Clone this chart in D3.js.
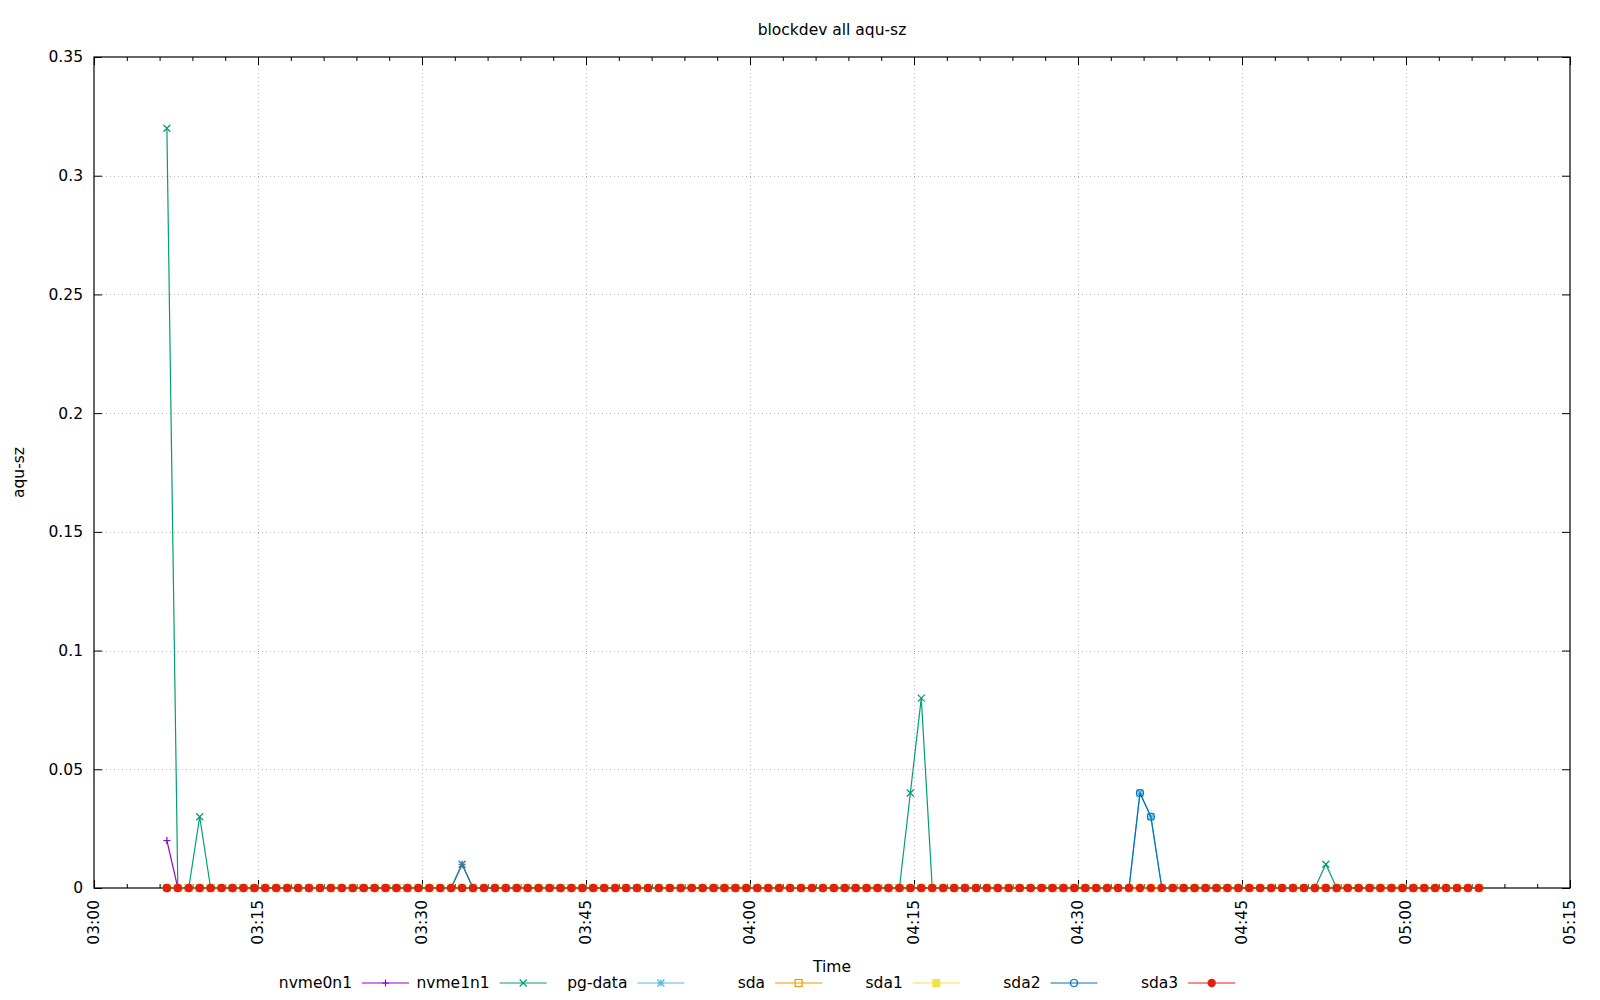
<!DOCTYPE html>
<html>
<head>
<meta charset="utf-8">
<title>blockdev all aqu-sz</title>
<script src="https://cdn.jsdelivr.net/npm/d3@7"></script>
<style>
  body { margin: 0; background: #fff; overflow: hidden; }
  svg { display: block; font-family: "DejaVu Sans", sans-serif; font-size: 15.5px; }
  .label { fill: #000; }
  .grid line { stroke: #b8b8b8; stroke-width: 1; stroke-dasharray: 1,3; }
</style>
</head>
<body>
<svg id="chart"></svg>
<script>
// Sampling grid: one sample per minute
const sampleStart = '03:06:40';
const sampleStepSec = 60;
const sampleCount = 121;

// Series names, in plot order
const seriesNames = ['nvme0n1', 'nvme1n1', 'pg-data', 'sda', 'sda1', 'sda2', 'sda3'];

// Non-zero readings for each series as [sample index, aqu-sz]; every other sample is 0
const nvme0n1Values = [[0, 0.02], [27, 0.01]];
const nvme1n1Values = [[0, 0.32], [3, 0.03], [27, 0.01], [68, 0.04], [69, 0.08], [106, 0.01]];
const pgDataValues = [[89, 0.04], [90, 0.03]];
const sdaValues = [];
const sda1Values = [];
const sda2Values = [[89, 0.04], [90, 0.03]];
const sda3Values = [];

// Axis ticks
const xTickLabels = ['03:00', '03:15', '03:30', '03:45', '04:00', '04:15', '04:30', '04:45', '05:00', '05:15'];
const yTickValues = [0, 0.05, 0.1, 0.15, 0.2, 0.25, 0.3, 0.35];

const colors = ['#9400d3', '#009e73', '#56b4e9', '#e69f00', '#f0e442', '#0072b2', '#e51e10'];
const markers = ['plus', 'cross', 'star', 'openSquare', 'fillSquare', 'openCircle', 'fillCircle'];

const config = {
  width: 1600,
  height: 1000,
  margin: {top: 57, right: 30, bottom: 112, left: 94}
};

const parseClock = d3.timeParse('%H:%M:%S');
const startTime = parseClock(sampleStart);
const times = d3.range(sampleCount).map(i => new Date(startTime.getTime() + i * sampleStepSec * 1000));

const rawValues = [nvme0n1Values, nvme1n1Values, pgDataValues, sdaValues, sda1Values, sda2Values, sda3Values];
const series = seriesNames.map((name, k) => {
  const lookup = new Map(rawValues[k]);
  return {
    name: name,
    color: colors[k],
    marker: markers[k],
    values: times.map((t, i) => ({time: t, value: lookup.has(i) ? lookup.get(i) : 0}))
  };
});

const innerWidth = config.width - config.margin.left - config.margin.right;
const innerHeight = config.height - config.margin.top - config.margin.bottom;

const svg = d3.select('#chart')
    .attr('width', config.width)
    .attr('height', config.height)
    .attr('viewBox', `0 0 ${config.width} ${config.height}`);

svg.append('rect')
    .attr('width', config.width)
    .attr('height', config.height)
    .attr('fill', '#fff');

const chart = svg.append('g')
    .attr('transform', `translate(${config.margin.left},${config.margin.top})`);

const parseTick = d3.timeParse('%H:%M');
const xTicks = xTickLabels.map(parseTick);

const xScale = d3.scaleTime()
    .domain([xTicks[0], xTicks[xTicks.length - 1]])
    .range([0, innerWidth]);

const yScale = d3.scaleLinear()
    .domain([0, 0.35])
    .range([innerHeight, 0]);

// Grid lines (dotted), inner ticks only
chart.append('g')
    .attr('class', 'grid')
  .selectAll('line')
    .data(xTicks.slice(1, -1))
  .join('line')
    .attr('x1', d => Math.round(xScale(d)) + 0.5)
    .attr('x2', d => Math.round(xScale(d)) + 0.5)
    .attr('y1', 0)
    .attr('y2', innerHeight);

chart.append('g')
    .attr('class', 'grid')
  .selectAll('line')
    .data(yTickValues.slice(1, -1))
  .join('line')
    .attr('x1', 0)
    .attr('x2', innerWidth)
    .attr('y1', d => Math.round(yScale(d)) + 0.5)
    .attr('y2', d => Math.round(yScale(d)) + 0.5);

// Tick marks come from d3 axes; domain paths and tick texts are dropped
function tickMarksOnly(g) {
  g.select('.domain').remove();
  g.selectAll('.tick text').remove();
  g.selectAll('.tick line').attr('stroke', '#000');
}

// Minor x ticks every 3 minutes, major every 15 (gnuplot style, pointing inward)
const minorTicks = d3.timeMinute.every(3).range(xTicks[0], xTicks[xTicks.length - 1])
    .filter(d => d.getMinutes() % 15 !== 0);

chart.append('g')
    .attr('transform', `translate(0,${innerHeight})`)
    .call(d3.axisBottom(xScale).tickValues(xTicks).tickSizeInner(-8).tickSizeOuter(0))
    .call(tickMarksOnly);

chart.append('g')
    .call(d3.axisTop(xScale).tickValues(xTicks).tickSizeInner(-8).tickSizeOuter(0))
    .call(tickMarksOnly);

chart.append('g')
    .attr('transform', `translate(0,${innerHeight})`)
    .call(d3.axisBottom(xScale).tickValues(minorTicks).tickSizeInner(-4).tickSizeOuter(0))
    .call(tickMarksOnly);

chart.append('g')
    .call(d3.axisTop(xScale).tickValues(minorTicks).tickSizeInner(-4).tickSizeOuter(0))
    .call(tickMarksOnly);

chart.append('g')
    .call(d3.axisLeft(yScale).tickValues(yTickValues).tickSizeInner(-8).tickSizeOuter(0))
    .call(tickMarksOnly);

chart.append('g')
    .attr('transform', `translate(${innerWidth},0)`)
    .call(d3.axisRight(yScale).tickValues(yTickValues).tickSizeInner(-8).tickSizeOuter(0))
    .call(tickMarksOnly);

// Tick labels
const timeFmt = d3.timeFormat('%H:%M');
chart.append('g')
  .selectAll('text')
    .data(xTicks)
  .join('text')
    .attr('class', 'label')
    .attr('transform', d => `translate(${xScale(d)},${innerHeight + 12}) rotate(-90)`)
    .attr('dy', '0.35em')
    .style('text-anchor', 'end')
    .text(d => timeFmt(d));

chart.append('g')
  .selectAll('text')
    .data(yTickValues)
  .join('text')
    .attr('class', 'label')
    .attr('x', -11)
    .attr('y', d => yScale(d))
    .attr('dy', '0.35em')
    .style('text-anchor', 'end')
    .text(d => d3.format('')(d));

// Plot border
chart.append('rect')
    .attr('x', 0)
    .attr('y', 0)
    .attr('width', innerWidth)
    .attr('height', innerHeight)
    .attr('fill', 'none')
    .attr('stroke', '#000')
    .attr('stroke-width', 1.2);

// Point marker drawing
function drawMarker(g, type, color) {
  const s = 3.5;
  if (type === 'plus' || type === 'star') {
    g.append('path').attr('d', `M${-s},0H${s}M0,${-s}V${s}`)
        .attr('stroke', color).attr('stroke-width', 1.2).attr('fill', 'none');
  }
  if (type === 'cross' || type === 'star') {
    g.append('path').attr('d', `M${-s},${-s}L${s},${s}M${-s},${s}L${s},${-s}`)
        .attr('stroke', color).attr('stroke-width', 1.2).attr('fill', 'none');
  }
  if (type === 'openSquare') {
    g.append('rect').attr('x', -s).attr('y', -s).attr('width', 2 * s).attr('height', 2 * s)
        .attr('stroke', color).attr('stroke-width', 1.2).attr('fill', 'none');
  }
  if (type === 'fillSquare') {
    g.append('rect').attr('x', -s - 0.5).attr('y', -s - 0.5).attr('width', 2 * s + 1).attr('height', 2 * s + 1)
        .attr('fill', color);
  }
  if (type === 'openCircle') {
    g.append('circle').attr('r', s)
        .attr('stroke', color).attr('stroke-width', 1.2).attr('fill', 'none');
  }
  if (type === 'fillCircle') {
    g.append('circle').attr('r', 4.2).attr('fill', color);
  }
}

const line = d3.line()
    .x(d => xScale(d.time))
    .y(d => yScale(d.value));

// Each series: line then its points, in order (later ones on top)
series.forEach(s => {
  const g = chart.append('g').attr('class', 'series');
  g.append('path')
      .datum(s.values)
      .attr('d', line)
      .attr('fill', 'none')
      .attr('stroke', s.color)
      .attr('stroke-width', 1.2);
  g.selectAll('.pt')
      .data(s.values)
    .join('g')
      .attr('class', 'pt')
      .attr('transform', d => `translate(${xScale(d.time)},${yScale(d.value)})`)
      .each(function() { drawMarker(d3.select(this), s.marker, s.color); });
});

// Titles
svg.append('text')
    .attr('class', 'label')
    .attr('x', config.margin.left + innerWidth / 2)
    .attr('y', 30)
    .attr('dy', '0.35em')
    .style('text-anchor', 'middle')
    .text('blockdev all aqu-sz');

svg.append('text')
    .attr('class', 'label')
    .attr('transform', `translate(19,${config.margin.top + innerHeight / 2}) rotate(-90)`)
    .attr('dy', '0.35em')
    .style('text-anchor', 'middle')
    .text('aqu-sz');

svg.append('text')
    .attr('class', 'label')
    .attr('x', config.margin.left + innerWidth / 2)
    .attr('y', 967)
    .attr('dy', '0.35em')
    .style('text-anchor', 'middle')
    .text('Time');

// Legend, one row under the axis
const legendX0 = 362;
const legendStep = 137.7;
const legendY = 983;
const legendLine = 47;

const legend = svg.append('g')
  .selectAll('g')
    .data(series)
  .join('g')
    .attr('transform', (d, i) => `translate(${legendX0 + i * legendStep},${legendY})`);

legend.append('text')
    .attr('class', 'label')
    .attr('x', -10)
    .attr('dy', '0.35em')
    .style('text-anchor', 'end')
    .text(d => d.name);

legend.append('line')
    .attr('x1', 0)
    .attr('x2', legendLine)
    .attr('stroke', d => d.color)
    .attr('stroke-width', 1.2);

legend.append('g')
    .attr('transform', `translate(${legendLine / 2},0)`)
    .each(function(d) { drawMarker(d3.select(this), d.marker, d.color); });
</script>
</body>
</html>
